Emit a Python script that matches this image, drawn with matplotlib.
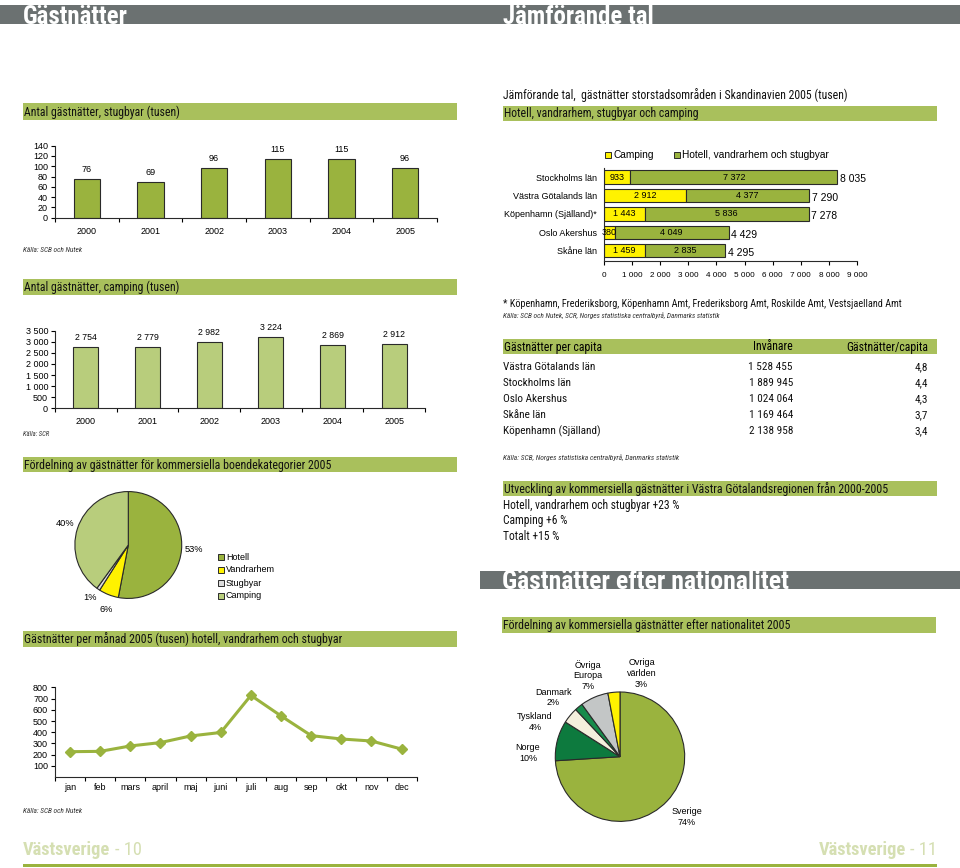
import numpy as np
import matplotlib
matplotlib.use('Agg')
import matplotlib.pyplot as plt
from matplotlib.patches import Rectangle

plt.rcParams['font.family'] = ['Liberation Sans', 'DejaVu Sans']
NARROW = ['Roboto Condensed', 'Open Sans Condensed', 'Liberation Sans Narrow', 'Liberation Sans', 'DejaVu Sans']

# --- data ---
years = ['2000', '2001', '2002', '2003', '2004', '2005']
stugbyar = [76, 69, 96, 115, 115, 96]
camping = [2754, 2779, 2982, 3224, 2869, 2912]

regions = ['Stockholms län', 'Västra Götalands län', 'Köpenhamn (Själland)*', 'Oslo Akershus', 'Skåne län']
reg_camping = [933, 2912, 1443, 380, 1459]
reg_hotell = [7372, 4377, 5836, 4049, 2835]
reg_total = [8035, 7290, 7278, 4429, 4295]

capita_names = ['Västra Götalands län', 'Stockholms län', 'Oslo Akershus', 'Skåne län', 'Köpenhamn (Själland)']
capita_inv = [1528455, 1889945, 1024064, 1169464, 2138958]
capita_ratio = ['4,8', '4,4', '4,3', '3,7', '3,4']

boende = ['Hotell', 'Vandrarhem', 'Stugbyar', 'Camping']
boende_share = [53, 6, 1, 40]

months = ['jan', 'feb', 'mars', 'april', 'maj', 'juni', 'juli', 'aug', 'sep', 'okt', 'nov', 'dec']
month_vals = [227, 230, 278, 308, 367, 398, 728, 545, 370, 340, 322, 250]

nations = ['Sverige', 'Norge', 'Tyskland', 'Danmark', 'Övriga\nEuropa', 'Ovriga\nvärlden']
nation_share = [74, 10, 4, 2, 7, 3]

utveckling = ['Hotell, vandrarhem och stugbyar +23 %', 'Camping +6 %', 'Totalt +15 %']

# --- style ---
GRAY = '#6b7171'
HEAD = '#a9c05c'
OLIVE = '#9ab33e'
LIGHT = '#b8cd7c'
YELLOW = '#fff200'
FOOT = '#d5dfb2'
EDGE = '#2a2a2a'

W, H = 960, 868
fig = plt.figure(figsize=(9.6, 8.68), dpi=100)
bg = fig.add_axes([0, 0, 1, 1])
bg.set_xlim(0, W)
bg.set_ylim(H, 0)
bg.axis('off')
renderer = fig.canvas.get_renderer()


def fmt(v):
    return f'{v:,}'.replace(',', ' ')


def fit(t, target):
    # shrink/grow the font so the text spans the same width as in the print
    w = t.get_window_extent(renderer).width
    t.set_fontsize(t.get_fontsize() * target / w)
    return t.get_fontsize()


def ntext(x, y, s, width=None, size=10, **kw):
    kw.setdefault('va', 'center')
    kw.setdefault('color', '#111')
    t = bg.text(x, y, s, family=NARROW, fontsize=size, **kw)
    if width:
        fit(t, width)
    return t


def px_axes(x0, y0, x1, y1):
    ax = fig.add_axes([x0 / W, 1 - y1 / H, (x1 - x0) / W, (y1 - y0) / H])
    ax.set_facecolor('none')
    return ax


def rect(x0, y0, x1, y1, color):
    bg.add_patch(Rectangle((x0, y0), x1 - x0, y1 - y0, color=color, lw=0))


def heading(x0, y0, x1, y1, text, width):
    rect(x0, y0, x1, y1, HEAD)
    ntext(x0 + 1, (y0 + y1) / 2 + 0.5, text, width)


def kalla(x, y, text, width):
    ntext(x, y, text, width, style='italic', color='#333')


def cat_axis(ax, labels, pad):
    n = len(labels)
    ax.set_xlim(-0.5, n - 0.5)
    ax.set_xticks(np.arange(n + 1) - 0.5)
    ax.set_xticklabels([])
    ax.set_xticks(np.arange(n), minor=True)
    ax.set_xticklabels(labels, minor=True, fontsize=6.5)
    ax.tick_params(axis='x', which='minor', length=0, pad=pad)
    ax.tick_params(axis='x', which='major', length=3, width=0.8, direction='out')
    ax.tick_params(axis='y', length=3, width=0.8, direction='out', pad=2, labelsize=6.5)
    for s in ['top', 'right']:
        ax.spines[s].set_visible(False)
    for s in ['left', 'bottom']:
        ax.spines[s].set_linewidth(0.8)
        ax.spines[s].set_color(EDGE)


# --- page headers ---
rect(0, 5, 960, 24, GRAY)
ntext(23, 24, 'Gästnätter', 105, 20, weight='bold', color='white', va='baseline')
ntext(503, 24, 'Jämförande tal', 151, 20, weight='bold', color='white', va='baseline')

# --- stugbyar bar chart ---
heading(23, 103, 457, 120, 'Antal gästnätter, stugbyar (tusen)', 155)
ax1 = px_axes(55, 145.7, 437, 217.7)
x = np.arange(len(years))
ax1.bar(x, stugbyar, width=0.41, color=OLIVE, edgecolor=EDGE, linewidth=0.8)
for i, v in enumerate(stugbyar):
    ax1.annotate(fmt(v), (i, v), xytext=(0, 3.5), textcoords='offset points', ha='center', va='bottom', fontsize=6.5)
ax1.set_ylim(0, 140)
ax1.set_yticks(range(0, 141, 20))
cat_axis(ax1, years, 6.5)
kalla(23, 250, 'Källa: SCB och Nutek', 59)

# --- camping bar chart ---
heading(23, 279, 457, 295, 'Antal gästnätter, camping (tusen)', 154)
ax2 = px_axes(55, 330.7, 425, 408.3)
ax2.bar(x, camping, width=0.41, color=LIGHT, edgecolor=EDGE, linewidth=0.8)
for i, v in enumerate(camping):
    ax2.annotate(fmt(v), (i, v), xytext=(0, 3.5), textcoords='offset points', ha='center', va='bottom', fontsize=6.3)
ax2.set_ylim(0, 3500)
ax2.set_yticks(range(0, 3501, 500))
ax2.set_yticklabels([fmt(v) for v in range(0, 3501, 500)])
cat_axis(ax2, years, 6.5)
kalla(23, 434, 'Källa: SCR', 26)

# --- pie boende ---
heading(23, 457, 457, 472, 'Fördelning av gästnätter för kommersiella boendekategorier 2005', 304)
pie1_colors = [OLIVE, YELLOW, '#dcdcdc', LIGHT]
cx, cy, r = 128.3, 545, 54.5
axp1 = px_axes(cx - r, cy - r, cx + r, cy + r)
axp1.pie(boende_share, colors=pie1_colors, startangle=90, counterclock=False,
         wedgeprops=dict(edgecolor=EDGE, linewidth=0.8))
axp1.set_xlim(-1.02, 1.02)
axp1.set_ylim(-1.02, 1.02)
pie1_pos = [(194, 550), (106, 610), (90, 598), (65, 524)]
for (px, py), v in zip(pie1_pos, boende_share):
    bg.text(px, py, f'{v}%', ha='center', va='center', fontsize=6.7)
for k, (name, col) in enumerate(zip(boende, pie1_colors)):
    yy = 557 + k * 13
    bg.add_patch(Rectangle((217.5, yy - 3), 6, 6, facecolor=col, edgecolor=EDGE, lw=0.7))
    bg.text(226, yy, name, va='center', fontsize=6.5)

# --- monthly line ---
heading(23, 631, 457, 647, 'Gästnätter per månad 2005 (tusen) hotell, vandrarhem och stugbyar', 314)
ax3 = px_axes(55, 687.3, 416.7, 777.2)
ax3.plot(np.arange(12), month_vals, color=OLIVE, lw=2.2, marker='D', markersize=5.5)
ax3.set_ylim(0, 800)
ax3.set_yticks(range(100, 801, 100))
cat_axis(ax3, months, 4.5)
kalla(23, 811, 'Källa: SCB och Nutek', 59)

# --- right: comparison ---
ntext(503, 95, 'Jämförande tal,  gästnätter storstadsområden i Skandinavien 2005 (tusen)', 344)
heading(503, 106, 937, 121, 'Hotell, vandrarhem, stugbyar och camping', 194)

ax4 = px_axes(604, 168, 857, 260.7)
ypos = np.arange(len(regions))[::-1]
ax4.barh(ypos, reg_camping, height=0.73, color=YELLOW, edgecolor=EDGE, linewidth=0.8)
ax4.barh(ypos, reg_hotell, left=reg_camping, height=0.73, color=OLIVE, edgecolor=EDGE, linewidth=0.8)
for yv, c, h, t in zip(ypos, reg_camping, reg_hotell, reg_total):
    ax4.text(c / 2, yv, fmt(c), ha='center', va='center', fontsize=6.5)
    ax4.text(c + h / 2, yv, fmt(h), ha='center', va='center', fontsize=6.5)
    ax4.text(c + h + 100, yv - 0.12, fmt(t), ha='left', va='center', fontsize=7.5, clip_on=False)
ax4.set_xlim(0, 9000)
ax4.set_ylim(-0.545, 4.5)
ax4.set_xticks(range(0, 9001, 1000))
ax4.set_xticklabels([fmt(v) for v in range(0, 9001, 1000)], fontsize=5.9)
ax4.set_yticks(ypos)
ax4.set_yticklabels(regions, fontsize=6.5)
ax4.tick_params(axis='y', length=0, pad=5)
ax4.tick_params(axis='x', length=3, width=0.8, direction='out', pad=5)
for s in ['top', 'right']:
    ax4.spines[s].set_visible(False)
for s in ['left', 'bottom']:
    ax4.spines[s].set_linewidth(0.8)
    ax4.spines[s].set_color(EDGE)

bg.add_patch(Rectangle((605, 152), 6, 6, facecolor=YELLOW, edgecolor=EDGE, lw=0.7))
bg.text(613, 155, 'Camping', va='center', fontsize=7.3)
bg.add_patch(Rectangle((674, 152), 6, 6, facecolor=OLIVE, edgecolor=EDGE, lw=0.7))
bg.text(682, 155, 'Hotell, vandrarhem och stugbyar', va='center', fontsize=7.3)

ntext(503, 304, '* Köpenhamn, Frederiksborg, Köpenhamn Amt, Frederiksborg Amt, Roskilde Amt, Vestsjaelland Amt', 395)
kalla(503, 316, 'Källa: SCB och Nutek, SCR, Norges statistiska centralbyrå, Danmarks statistik', 220)

# --- per capita table ---
rect(503, 339, 937, 354, HEAD)
hs = fit(bg.text(504, 347, 'Gästnätter per capita', family=NARROW, fontsize=10, va='center'), 97)
bg.text(793, 347, 'Invånare', family=NARROW, fontsize=hs, va='center', ha='right')
bg.text(928, 347, 'Gästnätter/capita', family=NARROW, fontsize=hs, va='center', ha='right')
rs = None
for k, (nm, inv, rt) in enumerate(zip(capita_names, capita_inv, capita_ratio)):
    yy = 367 + k * 16
    t = bg.text(503, yy, nm, family=NARROW, fontsize=rs or 10, va='center', color='#111')
    if rs is None:
        rs = fit(t, 92)
    bg.text(793, yy, fmt(inv), family=NARROW, fontsize=rs, va='center', ha='right', color='#111')
    bg.text(928, yy, rt, family=NARROW, fontsize=rs, va='center', ha='right', color='#111')
kalla(503, 458, 'Källa: SCB, Norges statistiska centralbyrå, Danmarks statistik', 175)

heading(503, 481, 937, 496, 'Utveckling av kommersiella gästnätter i Västra Götalandsregionen från 2000-2005', 379)
us = fit(bg.text(503, 505, utveckling[0], family=NARROW, fontsize=10, va='center', color='#111'), 176)
for k, line in enumerate(utveckling[1:], start=1):
    bg.text(503, 505 + k * 15.5, line, family=NARROW, fontsize=us, va='center', color='#111')

# --- nationality ---
rect(480, 571, 960, 589, GRAY)
ntext(502, 589, 'Gästnätter efter nationalitet', 286, 20, weight='bold', color='white', va='baseline')
heading(502, 617, 936, 633, 'Fördelning av kommersiella gästnätter efter nationalitet 2005', 284)

pie2_colors = [OLIVE, '#0d7a3e', '#f4efdc', '#178b4b', '#c3c6c6', YELLOW]
cx, cy, r = 620, 756.7, 66
axp2 = px_axes(cx - r, cy - r, cx + r, cy + r)
axp2.pie(nation_share, colors=pie2_colors, startangle=90, counterclock=False,
         wedgeprops=dict(edgecolor=EDGE, linewidth=0.8))
axp2.set_xlim(-1.02, 1.02)
axp2.set_ylim(-1.02, 1.02)
pie2_pos = [(686.7, 817), (528, 752.8), (535, 721.7), (553, 697.5), (588, 675.5), (641.7, 673.7)]
for (px, py), nm, v in zip(pie2_pos, nations, nation_share):
    bg.text(px, py, f'{nm}\n{v}%', ha='center', va='center', fontsize=6.5, linespacing=1.25)

# --- footer ---
fs = fit(bg.text(23, 855, 'Västsverige', family=NARROW, fontsize=14, weight='bold', color=FOOT, va='baseline'), 88)
bg.text(115, 855, '- 10', family=NARROW, fontsize=fs, color=FOOT, va='baseline')
bg.text(906, 855, 'Västsverige', family=NARROW, fontsize=fs, weight='bold', color=FOOT, va='baseline', ha='right')
bg.text(937, 855, '- 11', family=NARROW, fontsize=fs, color=FOOT, va='baseline', ha='right')
rect(23, 864, 937, 867, OLIVE)

fig.savefig('out.png', dpi=100)
